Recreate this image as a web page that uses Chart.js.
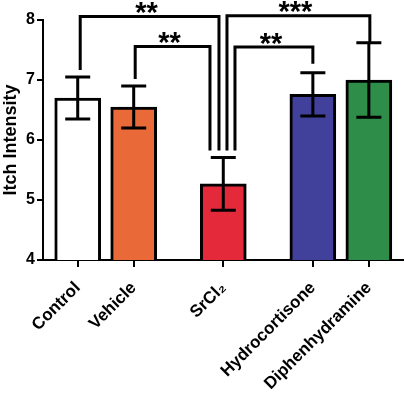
<!DOCTYPE html>
<html>
<head>
<meta charset="utf-8">
<script src="https://cdn.jsdelivr.net/npm/chart.js@4/dist/chart.umd.min.js"></script>
<style>
  html, body { margin: 0; padding: 0; background: #fff; }
  #wrap { width: 405px; height: 393px; }
</style>
</head>
<body>
<div id="wrap"><canvas id="chart"></canvas></div>
<script>
const categories = ["Control", "Vehicle", "SrCl₂", "Hydrocortisone", "Diphenhydramine"];
const groupX = [0, 1, 2.6, 4.2, 5.2];
const means = [6.70, 6.55, 5.27, 6.76, 7.00];
const sems = [0.35, 0.35, 0.44, 0.36, 0.62];
const barColors = ["#ffffff", "#e96a38", "#e4293a", "#41409a", "#2e8d48"];
const yTicks = [4, 5, 6, 7, 8];

// significance brackets
const bracketFrom = [0, 1, 2, 2];
const bracketTo = [2, 2, 4, 3];
const bracketLevel = [8.06, 7.56, 8.07, 7.55];
const bracketStars = ["**", "**", "***", "**"];

Chart.defaults.font.family = "'Liberation Sans', Arial, sans-serif";
Chart.defaults.color = "#000";

const errorBars = {
    id: "errorBars",
    afterDatasetsDraw(chart) {
        const { ctx, scales: { x, y } } = chart;
        ctx.save();
        ctx.strokeStyle = "#000";
        ctx.lineWidth = 3;
        means.forEach((m, i) => {
            const px = x.getPixelForValue(groupX[i]);
            const top = y.getPixelForValue(m + sems[i]);
            const bot = y.getPixelForValue(m - sems[i]);
            ctx.beginPath();
            ctx.moveTo(px, top);
            ctx.lineTo(px, bot);
            ctx.moveTo(px - 12.5, top);
            ctx.lineTo(px + 12.5, top);
            ctx.moveTo(px - 12.5, bot);
            ctx.lineTo(px + 12.5, bot);
            ctx.stroke();
        });
        ctx.restore();
    }
};

// leg shifts / gaps in pixels, so the legs at SrCl2 don't overlap
const legShift = [[2.5, -4.3], [1.5, -13.3], [3.7, 1], [11.7, 0]];
const legGap = [[7, 7], [7, 7], [7, 0], [7, 9]];

const brackets = {
    id: "brackets",
    afterDraw(chart) {
        const { ctx, scales: { x, y } } = chart;
        ctx.save();
        ctx.strokeStyle = "#000";
        ctx.fillStyle = "#000";
        ctx.lineWidth = 3;
        ctx.lineJoin = "miter";
        ctx.font = "bold 29px 'Liberation Sans', Arial, sans-serif";
        ctx.textAlign = "center";
        ctx.textBaseline = "alphabetic";
        bracketFrom.forEach((a, k) => {
            const b = bracketTo[k];
            const x1 = x.getPixelForValue(groupX[a]) + legShift[k][0];
            const x2 = x.getPixelForValue(groupX[b]) + legShift[k][1];
            const ly = y.getPixelForValue(bracketLevel[k]);
            const y1 = y.getPixelForValue(means[a] + sems[a]) - legGap[k][0];
            const y2 = y.getPixelForValue(means[b] + sems[b]) - legGap[k][1];
            ctx.beginPath();
            ctx.moveTo(x1, y1);
            ctx.lineTo(x1, ly);
            ctx.lineTo(x2, ly);
            ctx.lineTo(x2, y2);
            ctx.stroke();
            ctx.fillText(bracketStars[k], (x1 + x2) / 2 - 3, ly + 5.5);
        });
        ctx.restore();
    }
};

new Chart(document.getElementById("chart"), {
    type: "bar",
    data: {
        datasets: [{
            data: means.map((m, i) => ({ x: groupX[i], y: m })),
            backgroundColor: barColors,
            borderColor: "#000",
            borderWidth: 3,
            borderSkipped: false,
            barThickness: 46
        }]
    },
    options: {
        responsive: true,
        maintainAspectRatio: false,
        animation: false,
        layout: { padding: { top: 20, right: 2, left: 0, bottom: 0 } },
        plugins: { legend: { display: false }, tooltip: { enabled: false } },
        scales: {
            x: {
                type: "linear",
                min: -0.62,
                max: 5.81,
                offset: false,
                grid: { offset: false, drawOnChartArea: false, color: "#000", lineWidth: 2, tickLength: 7 },
                border: { color: "#000", width: 2 },
                afterBuildTicks: s => { s.ticks = groupX.map(v => ({ value: v })); },
                afterFit: s => { s.height = 133; },
                ticks: {
                    autoSkip: false,
                    maxRotation: 45,
                    minRotation: 45,
                    padding: 11,
                    font: { size: 17, weight: "bold" },
                    callback: (v, i) => categories[i]
                }
            },
            y: {
                min: 4,
                max: 8,
                afterBuildTicks: s => { s.ticks = yTicks.map(v => ({ value: v })); },
                afterFit: s => { s.width = 43; },
                grid: { drawOnChartArea: false, color: "#000", lineWidth: 2, tickLength: 6 },
                border: { color: "#000", width: 2 },
                ticks: { padding: 2, font: { size: 16, weight: "bold" } },
                title: {
                    display: true,
                    text: "Itch Intensity",
                    padding: { top: 0, bottom: 0 },
                    font: { size: 18, weight: "bold" }
                }
            }
        }
    },
    plugins: [errorBars, brackets]
});
</script>
</body>
</html>
